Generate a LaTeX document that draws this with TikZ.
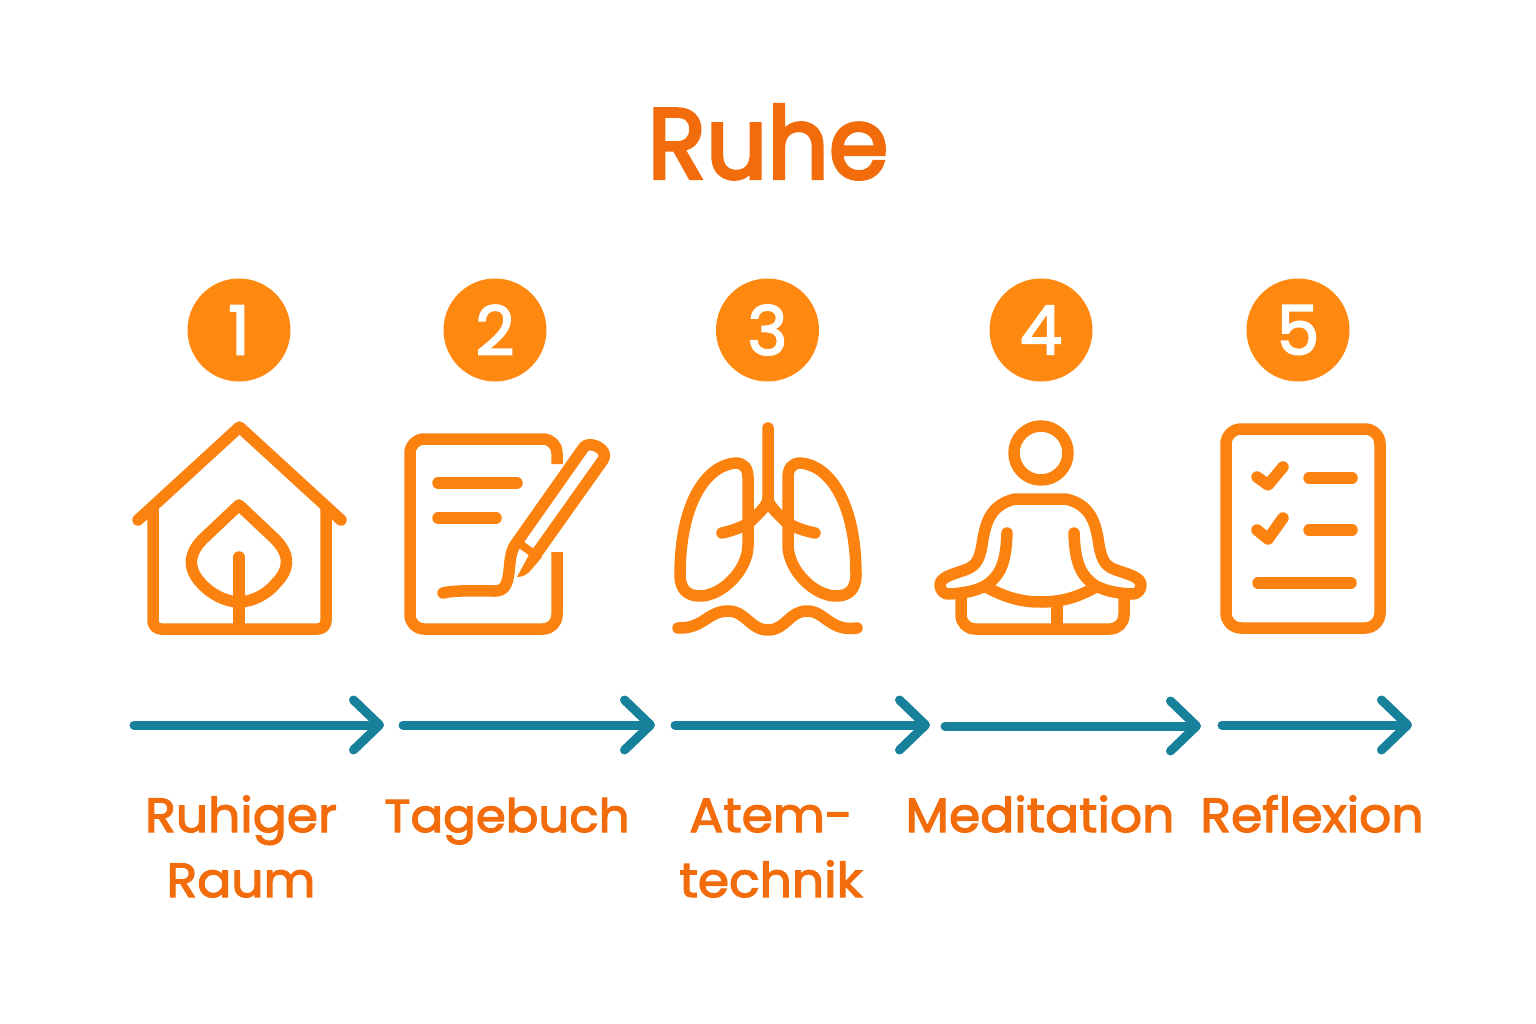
\documentclass[tikz,border=0pt]{standalone}
\usepackage{fontspec}
\setmainfont{Poppins}[FakeBold=2.4]
\newfontfamily\titlefont{Poppins}[FakeBold=3.2,FakeStretch=0.96]
\newfontfamily\labelfont{Poppins}[FakeBold=2.6,FakeStretch=1.05]
\usetikzlibrary{arrows.meta,positioning}
\definecolor{ruheorange}{HTML}{F26C0C}
\definecolor{iconorange}{HTML}{FB820F}
\definecolor{discorange}{HTML}{FF8810}
\definecolor{arrowteal}{HTML}{17809A}
\begin{document}
\begin{tikzpicture}[
        x=1pt, y=-1pt,
        title/.style={font=\titlefont\fontsize{100}{100}\selectfont, text=ruheorange, inner sep=0pt, anchor=base},
        numdisc/.style={circle, fill=discorange, text=white, minimum size=103pt, inner sep=0pt, font=\fontsize{68}{68}\selectfont},
        steplabel/.style={font=\labelfont\fontsize{48}{65}\selectfont, text=ruheorange, align=center, inner sep=0pt, anchor=base},
        icon/.style={draw=iconorange, line width=11.5pt, line cap=round, line join=round},
        flow/.style={draw=arrowteal, line width=9pt, line cap=round, -{Straight Barb[length=26pt,width=50pt,round]}}
      ]
        \useasboundingbox (0,0) rectangle (1536,1024);

        \node (ruhe) [title] at (768,178.5) {Ruhe};

        \node (num1) [numdisc] at (239,330) {1};
        \node (num2) [numdisc] at (495,330) {2};
        \node (num3) [numdisc] at (767.5,330) {3};
        \node (num4) [numdisc] at (1041,330) {4};
        \node (num5) [numdisc] at (1298,330) {5};

        \draw[icon] (138,520) -- (239.5,427) -- (341,520);
        \draw[icon, rounded corners=8pt] (153,510) -- (153,629) -- (326,629) -- (326,510);
        \draw[icon] (239,505) -- (203,539) .. controls (186,556) and (190,571) .. (200,582) .. controls (210,594) and (226,602) .. (239,602) .. controls (252,602) and (268,594) .. (277,582) .. controls (288,571) and (292,556) .. (275,539) -- cycle;
        \draw[icon] (239,557) -- (239,629);

        \draw[icon, rounded corners=14pt, line cap=butt] (557,464) -- (557,439) -- (410,439) -- (410,629) -- (557,629) -- (557,552);
        \draw[icon] (438,483) -- (517,483);
        \draw[icon] (438,518) -- (496,518);
        \draw[icon] (443,593) .. controls (455,590) and (475,591) .. (495,591) .. controls (515,591) and (505,560) .. (515,545) -- (584,447) .. controls (590,440) and (610,450) .. (603,460) -- (537,553);
        \draw[icon, line width=8pt] (520,544) -- (537,556);
        \fill[iconorange] (531,551) -- (542,557) -- (531,570) .. controls (527,575) and (522,577) .. (517,577) -- cycle;

        \draw[icon] (768,428) -- (768,498) .. controls (768,505) and (760,512) .. (750,522) .. controls (742,527) and (735,530) .. (722,533);
        \draw[icon] (768,498) .. controls (768,505) and (776,512) .. (786,522) .. controls (794,527) and (801,530) .. (815,533);
        \draw[icon] (748,478) .. controls (748,468) and (744,463) .. (735,463) .. controls (705,466) and (680,505) .. (680,575) .. controls (680,590) and (688,596) .. (700,596) .. controls (722,596) and (748,570) .. (748,545) -- cycle;
        \draw[icon] (788,478) .. controls (788,468) and (792,463) .. (801,463) .. controls (831,466) and (856,505) .. (856,575) .. controls (856,590) and (848,596) .. (836,596) .. controls (814,596) and (788,570) .. (788,545) -- cycle;
        \draw[icon] (678,628) .. controls (703,629) and (708,611) .. (728,611) .. controls (746,611) and (750,630) .. (768,630) .. controls (786,630) and (789,611) .. (807,611) .. controls (825,611) and (830,632) .. (857,628);

        \draw[icon] (1041,453) circle (27);
        \draw[icon] (1007,533) .. controls (1006,560) and (1002,575) .. (985,586) .. controls (975,591) and (965,593) .. (950,594) .. controls (944,595) and (940,590) .. (940,585) .. controls (940,578) and (950,575) .. (962,571) .. controls (975,567) and (979,562) .. (982,545) .. controls (985,525) and (989,505) .. (1015,499) -- (1066,499) .. controls (1092,505) and (1096,525) .. (1099,545) .. controls (1102,562) and (1106,567) .. (1119,571) .. controls (1131,575) and (1141,578) .. (1141,585) .. controls (1141,590) and (1137,595) .. (1131,594) .. controls (1116,593) and (1106,591) .. (1096,586) .. controls (1079,575) and (1075,560) .. (1074,533);
        \draw[icon] (986,587) .. controls (1005,597) and (1020,602) .. (1041,602) .. controls (1062,602) and (1078,597) .. (1096,587);
        \draw[icon, rounded corners=14pt, line cap=butt] (961,597) -- (961,629) -- (1124,629) -- (1124,597);
        \draw[icon, line cap=butt] (1057,605) -- (1057,629);

        \draw[icon, rounded corners=15pt] (1226,429) rectangle (1380,628);
        \draw[icon] (1257,477) -- (1268,485) -- (1283,467);
        \draw[icon] (1309,478) -- (1352,478);
        \draw[icon] (1257,530) -- (1268,539) -- (1283,518);
        \draw[icon] (1309,530) -- (1352,530);
        \draw[icon] (1258,583) -- (1351,583);

        \coordinate (flow1a) at (134,725);
        \coordinate (flow1b) at (384,725);
        \coordinate (flow2a) at (403,725);
        \coordinate (flow2b) at (655,725);
        \coordinate (flow3a) at (675,725);
        \coordinate (flow3b) at (930,725);
        \coordinate (flow4a) at (945,726);
        \coordinate (flow4b) at (1201,726);
        \coordinate (flow5a) at (1222,725);
        \coordinate (flow5b) at (1412,725);
        \draw[flow] (flow1a) -- (flow1b);
        \draw[flow] (flow2a) -- (flow2b);
        \draw[flow] (flow3a) -- (flow3b);
        \draw[flow] (flow4a) -- (flow4b);
        \draw[flow] (flow5a) -- (flow5b);

        \node (label1) [steplabel] at (241,897) {Ruhiger\\Raum};
        \node (label2) [steplabel, font=\labelfont\fontsize{46}{65}\selectfont] at (507,832) {Tagebuch};
        \node (label3) [steplabel] at (771,897) {Atem-\\technik};
        \node (label4) [steplabel] at (1040,832) {Meditation};
        \node (label5) [steplabel] at (1312,832) {Reflexion};
      \end{tikzpicture}
\end{document}
